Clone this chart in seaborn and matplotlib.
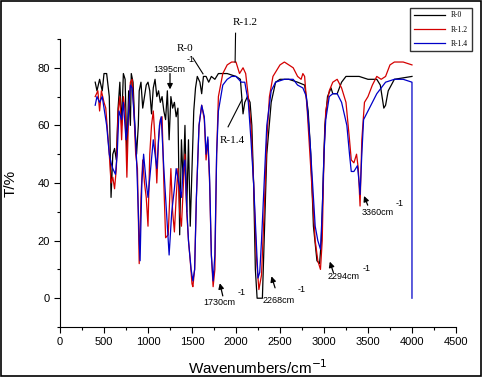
import numpy as np
import pandas as pd
import seaborn as sns
import matplotlib.pyplot as plt
from matplotlib.ticker import MultipleLocator
from matplotlib.patches import Rectangle

# FTIR spectra
r0_x = [400, 420, 450, 480, 500, 530, 560, 580, 600, 620, 640, 660, 680, 700, 720, 740, 760, 780,
        800, 810, 830, 850, 870, 890, 900, 920, 940, 960, 980, 1000, 1020, 1040, 1060, 1080, 1100,
        1120, 1140, 1160, 1180, 1200, 1220, 1240, 1260, 1280, 1300, 1320, 1340, 1360, 1380, 1400,
        1420, 1440, 1460, 1480, 1500, 1520, 1540, 1560, 1590, 1610, 1630, 1660, 1690, 1720, 1760,
        1800, 1900, 2000, 2050, 2080, 2100, 2130, 2160, 2180, 2200, 2220, 2240, 2300, 2320, 2350,
        2400, 2450, 2500, 2600, 2700, 2780, 2820, 2850, 2880, 2920, 2950, 2970, 2990, 3010, 3040,
        3080, 3100, 3150, 3200, 3250, 3400, 3500, 3600, 3640, 3680, 3700, 3730, 3800, 4000]
r0_y = [75, 72, 76, 72, 78, 78, 70, 35, 50, 52, 48, 66, 75, 60, 78, 76, 50, 72,
        60, 78, 75, 60, 50, 60, 72, 75, 66, 70, 74, 75, 72, 64, 73, 76, 70,
        72, 68, 70, 65, 62, 72, 55, 70, 66, 68, 63, 66, 22, 55, 40,
        60, 30, 55, 25, 45, 65, 73, 77, 75, 71, 77, 77, 75, 77, 76,
        78, 78, 77, 76, 64, 68, 70, 68, 60, 40, 10, 0, 0, 20, 50,
        68, 75, 76, 76, 75, 74, 65, 50, 25, 13, 12, 20, 40, 60, 70,
        73, 71, 71, 75, 77, 77, 76, 76, 74, 66, 67, 72, 76, 77]

r12_x = [400, 430, 450, 470, 500, 520, 540, 560, 580, 600, 620, 640, 660, 680, 700, 720, 740, 760,
         780, 800, 820, 840, 860, 880, 900, 920, 940, 960, 980, 1000, 1020, 1040, 1060, 1080, 1100,
         1120, 1140, 1160, 1180, 1200, 1230, 1260, 1280, 1300, 1320, 1340, 1360, 1380, 1400, 1420,
         1440, 1460, 1480, 1500, 1510, 1530, 1550, 1580, 1610, 1640, 1660, 1680, 1700, 1720, 1740,
         1760, 1780, 1800, 1850, 1900, 1950, 2000, 2040, 2060, 2080, 2110, 2140, 2170, 2200, 2230,
         2260, 2290, 2320, 2350, 2380, 2420, 2500, 2550, 2650, 2700, 2740, 2760, 2780, 2810, 2840,
         2870, 2900, 2930, 2960, 2980, 3000, 3020, 3060, 3100, 3150, 3200, 3250, 3290, 3310, 3340,
         3370, 3390, 3410, 3430, 3460, 3500, 3550, 3600, 3650, 3700, 3750, 3800, 3900, 4000]
r12_y = [70, 72, 65, 72, 68, 66, 58, 50, 40, 42, 38, 45, 65, 70, 55, 70, 65, 42,
         65, 75, 76, 65, 50, 45, 12, 35, 48, 40, 35, 25, 50, 60, 65, 55, 40,
         55, 62, 63, 40, 21, 22, 45, 30, 23, 35, 45, 30, 25, 38, 50,
         30, 20, 13, 5, 4, 10, 35, 60, 67, 62, 48, 55, 40, 15, 4,
         10, 50, 70, 78, 81, 82, 82, 78, 79, 80, 78, 70, 60, 40, 15,
         3, 8, 30, 55, 70, 77, 81, 82, 80, 77, 76, 78, 77, 65, 50,
         35, 20, 13, 10, 20, 50, 65, 72, 75, 76, 73, 68, 55, 48, 47,
         50, 45, 32, 55, 68, 70, 74, 77, 76, 77, 81, 82, 82, 81]

r14_x = [400, 420, 450, 480, 500, 530, 560, 580, 600, 630, 650, 670, 700, 720, 750, 770, 800, 820,
         850, 870, 890, 900, 910, 930, 950, 980, 1000, 1030, 1060, 1080, 1100, 1130, 1150, 1180,
         1210, 1240, 1270, 1300, 1320, 1350, 1380, 1400, 1420, 1440, 1460, 1490, 1510, 1530, 1550,
         1580, 1610, 1640, 1660, 1680, 1700, 1720, 1740, 1760, 1780, 1800, 1850, 1900, 1950, 2000,
         2030, 2060, 2100, 2140, 2170, 2200, 2230, 2250, 2270, 2290, 2320, 2350, 2400, 2450, 2550,
         2650, 2700, 2760, 2800, 2840, 2870, 2900, 2930, 2960, 2980, 3000, 3020, 3060, 3100, 3150,
         3200, 3260, 3290, 3310, 3340, 3380, 3400, 3410, 3430, 3450, 3500, 3550, 3600, 3650, 3700,
         3800, 3900, 4000, 4000]
r14_y = [67, 70, 68, 70, 66, 60, 50, 47, 45, 43, 50, 65, 62, 68, 55, 60, 74, 73,
         60, 48, 30, 20, 13, 40, 50, 40, 35, 45, 55, 50, 45, 60, 63, 45,
         30, 15, 30, 38, 45, 40, 35, 45, 48, 32, 20, 10, 6, 10, 35,
         60, 67, 63, 50, 56, 42, 15, 6, 15, 50, 65, 74, 76, 77, 77,
         76, 75, 75, 68, 55, 40, 20, 7, 9, 20, 40, 60, 72, 75, 76,
         76, 74, 73, 70, 55, 40, 25, 20, 17, 30, 50, 62, 70, 71, 71,
         68, 60, 50, 44, 44, 46, 40, 36, 50, 62, 65, 68, 71, 73, 75,
         76, 76, 75, 0]

series_names = ["R-0", "R-1.2", "R-1.4"]
series_colors = ["#000000", "#d40000", "#0000c8"]

fig = plt.figure(figsize=(4.82, 3.77), dpi=100)
ax = fig.add_axes([0.1245, 0.1326, 0.8215, 0.764])

for name, xs, ys, c in zip(series_names, [r0_x, r12_x, r14_x], [r0_y, r12_y, r14_y], series_colors):
    df = pd.DataFrame({"x": xs, "y": ys})
    sns.lineplot(data=df, x="x", y="y", ax=ax, color=c, linewidth=0.9,
                 sort=False, estimator=None, label=name, legend=False)

ax.set_xlim(0, 4500)
ax.set_ylim(-10, 90)
ax.xaxis.set_major_locator(MultipleLocator(500))
ax.xaxis.set_minor_locator(MultipleLocator(250))
ax.yaxis.set_minor_locator(MultipleLocator(10))
ax.set_yticks([0, 20, 40, 60, 80])
ax.spines["top"].set_visible(False)
ax.spines["right"].set_visible(False)
ax.tick_params(which="major", direction="out", length=4, width=0.8, labelsize=8)
ax.tick_params(which="minor", direction="out", length=2.5, width=0.8)
for lab in ax.get_xticklabels() + ax.get_yticklabels():
    lab.set_family("Liberation Sans")
ax.set_xlabel("Wavenumbers/cm$^{-1}$", fontsize=11, family="Liberation Sans", labelpad=8)
ax.set_ylabel("T/%", fontsize=11, family="Liberation Sans", labelpad=14)

# curve labels with leader lines
serif = "Liberation Serif"
ax.text(1330, 86, "R-0", fontsize=8, family=serif)
ax.text(1965, 95, "R-1.2", fontsize=8, family=serif, clip_on=False)
ax.text(1818, 54, "R-1.4", fontsize=8, family=serif)
ax.plot([1511, 1625], [83.4, 77.9], color="black", lw=0.8)
ax.plot([1995, 1990], [92, 82], color="black", lw=0.8, clip_on=False)
ax.plot([1910, 2067], [59.5, 68.9], color="black", lw=0.8)

# peak annotations
peaks = ["1395", "1730", "2268", "2294", "3360"]
text_pos = [(1056, 78.5), (1625, -2.5), (2306, -1.5), (3045, 6.5), (3431, 29)]
sup_pos = [(1443, 82), (2022, 1), (2704, 2), (3442, 9.3), (3817, 32)]
arrows = [((1250, 78), (1250, 72.5)), ((1850, 0.8), (1816, 5.2)), ((2444, 3.6), (2403, 7.6)),
          ((3107, 8.9), (3066, 12.7)), ((3497, 32.3), (3455, 35.5))]
for p, tp, sp, (tail, head) in zip(peaks, text_pos, sup_pos, arrows):
    ax.text(tp[0], tp[1], p + "cm", fontsize=6.5, family="Liberation Sans")
    ax.text(sp[0], sp[1], "-1", fontsize=6.5, family="Liberation Sans")
    ax.annotate("", xy=head, xytext=tail,
                arrowprops=dict(arrowstyle="-|>", color="black", lw=0.9,
                                mutation_scale=8, shrinkA=0, shrinkB=0))

# legend box top right in figure coords
handles, labels = ax.get_legend_handles_labels()
leg = fig.legend(handles, labels, loc="upper right", bbox_to_anchor=(0.987, 0.99),
                 frameon=True, fancybox=False, edgecolor="black",
                 handlelength=4, borderpad=0.5, labelspacing=0.8,
                 prop={"family": serif, "size": 5.5})
leg.get_frame().set_linewidth(1.0)

fig.patches.append(Rectangle((0.002, 0.003), 0.996, 0.994, transform=fig.transFigure,
                             fill=False, edgecolor="black", linewidth=1.2))

fig.savefig("out.png", dpi=100)
